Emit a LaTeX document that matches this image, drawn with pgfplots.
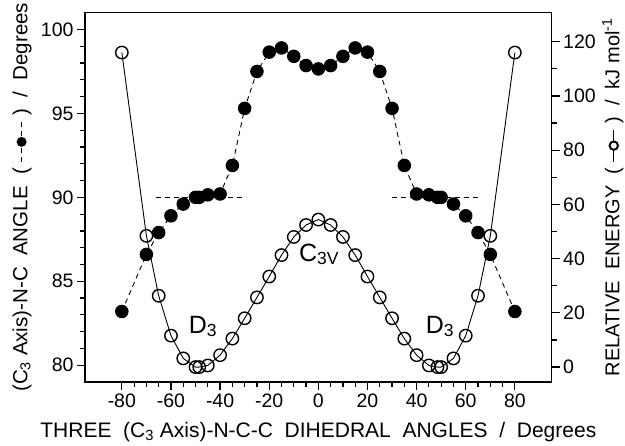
\documentclass[border=0pt]{standalone}
\usepackage{pgfplots}
\pgfplotsset{compat=1.18}
\usepackage{fontspec}
\setmainfont{Liberation Sans}
\begin{document}
\begin{tikzpicture}
\useasboundingbox (-85pt,-64pt) rectangle (540pt,382pt);
\pgfplotsset{
  common/.style={
    scale only axis, width=466.7pt, height=369.3pt,
    at={(0pt,0pt)}, anchor=south west,
    font=\fontsize{19.5}{22}\selectfont,
    /pgf/number format/assume math mode=true,
    xmin=-95, xmax=95,
    axis line style={line width=1.5pt},
    tick style={line width=1.2pt, black},
    major tick length=8pt, minor tick length=5pt,
    tick align=outside,
    clip=false,
  }
}
\begin{axis}[common,
  ymin=79, ymax=101,
  xtick={-80,-60,...,80}, minor x tick num=3,
  ytick={80,85,...,100}, minor y tick num=4,
  xtick pos=bottom, ytick pos=left,
  xlabel={THREE\ \ (C\textsubscript{3} Axis)-N-C-C\ \ DIHEDRAL\ \ ANGLES\ \ /\ \ Degrees},
  ylabel={(C\textsubscript{3} Axis)-N-C\ \ ANGLE\ \ (\ \raisebox{0.3ex}{\tikz[baseline=0pt]{\draw[line width=1pt] (0pt,0.12em)--(5pt,0.12em) (9pt,0.12em)--(14pt,0.12em) (26pt,0.12em)--(31pt,0.12em) (35pt,0.12em)--(40pt,0.12em); \fill (20pt,0.12em) circle (5pt);}}\ )\ \ /\ \ Degrees},
  every axis x label/.style={at={(axis description cs:0.5,-0.135)}, anchor=center, font=\fontsize{21}{24}\selectfont},
  every axis y label/.style={at={(axis description cs:-0.135,0.5)}, anchor=center, rotate=90, font=\fontsize{20.5}{23}\selectfont},
]
\addplot[black, line width=0.9pt, dash pattern=on 5pt off 4pt, mark=*, mark size=6.3pt, mark options={solid}] coordinates {
(-80,83.2) (-70,86.6) (-65,87.9) (-60,88.9) (-55,89.6) (-50,90.0) (-48.5,90.0) (-45,90.15) (-40,90.2) (-35,91.9) (-30,95.3) (-25,97.5) (-20,98.65) (-15,98.9) (-10,98.4) (-5,97.85) (0,97.65)
(5,97.85) (10,98.4) (15,98.9) (20,98.65) (25,97.5) (30,95.3) (35,91.9) (40,90.2) (45,90.15) (48.5,90.0) (50,90.0) (55,89.6) (60,88.9) (65,87.9) (70,86.6) (80,83.2)
};
\addplot[black, line width=0.9pt, dash pattern=on 5pt off 4pt] coordinates {(-66,90) (-30,90)};
\addplot[black, line width=0.9pt, dash pattern=on 5pt off 4pt] coordinates {(30,90) (66,90)};
\node[font=\fontsize{25}{28}\selectfont] at (axis cs:-47,82.3) {D\textsubscript{3}};
\node[font=\fontsize{25}{28}\selectfont] at (axis cs:49.5,82.3) {D\textsubscript{3}};
\node[font=\fontsize{25}{28}\selectfont] at (axis cs:0.3,86.6) {C\textsubscript{3V}};
\end{axis}
\begin{axis}[common,
  ymin=-5.5, ymax=130.7,
  axis x line=none,
  axis y line*=right,
  ytick={0,20,...,120}, minor y tick num=1,
  ytick pos=right,
  ylabel={RELATIVE\ \ ENERGY\ \ (\ \raisebox{0.3ex}{\tikz[baseline=0pt]{\draw[line width=1pt] (0,0.12em)--(32pt,0.12em); \draw[fill=white, line width=2pt] (16pt,0.12em) circle (4.2pt);}}\ )\ \ /\ \ kJ mol\textsuperscript{-1}},
  every axis y label/.style={at={(axis description cs:1.131,0.5)}, anchor=center, rotate=90, font=\fontsize{20}{23}\selectfont},
]
\addplot[black, line width=0.9pt, mark=o, mark size=6.2pt, mark options={fill=white, line width=1.4pt}] coordinates {
(-80,116) (-70,48.4) (-65,26.3) (-60,11.6) (-55,3.2) (-50,0.0) (-48.5,0.0) (-45,0.6) (-40,4.4) (-35,10.5) (-30,18.0) (-25,25.7) (-20,33.4) (-15,41.3) (-10,48.0) (-5,52.4) (0,54.4)
(5,52.4) (10,48.0) (15,41.3) (20,33.4) (25,25.7) (30,18.0) (35,10.5) (40,4.4) (45,0.6) (48.5,0.0) (50,0.0) (55,3.2) (60,11.6) (65,26.3) (70,48.4) (80,116)
};
\end{axis}
\end{tikzpicture}
\end{document}
